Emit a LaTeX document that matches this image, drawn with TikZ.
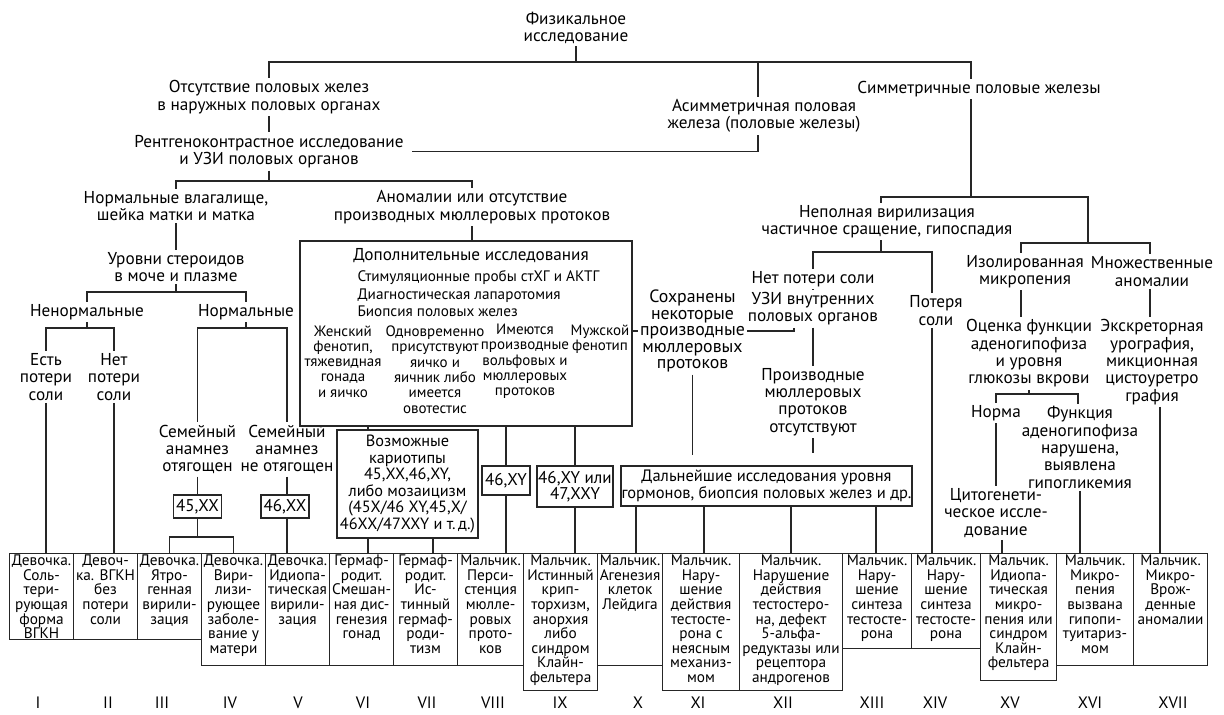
\documentclass[tikz,border=0pt]{standalone}
\usepackage{fontspec}
\setmainfont{PT Sans}
\newcommand\fsz[2]{\fontsize{#1}{#2}\selectfont\lineskiplimit=-20pt\relax}
\newcommand\mycell[5]{%
  \node[cell, minimum width=#3, minimum height=#4] (#1) at (#2,553) {};
  \node[celltxt] (#1t) at ([yshift=-1.5pt]#1.north) {#5};}
\begin{document}
\begin{tikzpicture}[x=1pt,y=-1pt,
  line width=1.1pt, draw=black!85,
  lbl/.style={align=center,inner sep=2pt,font=\fsz{17.2}{17.3}},
  sml/.style={align=center,inner sep=2pt,font=\fsz{15}{15.3}},
  kbox/.style={draw,align=center,inner sep=0pt,font=\fsz{17}{16.5}},
  cell/.style={draw,anchor=north west,inner sep=0pt},
  celltxt/.style={anchor=north,align=center,inner sep=0pt,font=\fsz{15.3}{14.6}},
  rom/.style={inner sep=1pt,font=\fsz{16.5}{16}}]
\useasboundingbox (0,0) rectangle (1224,715);

% ---------- text nodes ----------
\node[lbl] (phys) at (576,28) {Физикальное\\исследование};
\node[lbl] (absent) at (269,97) {Отсутствие половых желез\\в наружных половых органах};
\node[lbl] (asym) at (764,116) {Асимметричная половая\\железа (половые железы)};
\node[lbl] (sym) at (979,89) {Симметричные половые железы};
\node[lbl] (rentg) at (269,151.5) {Рентгеноконтрастное исследование\\и УЗИ половых органов};
\node[lbl] (norm3) at (176,206) {Нормальные влагалище,\\шейка матки и матка};
\node[lbl] (anom) at (472,207) {Аномалии или отсутствие\\производных мюллеровых протоков};
\node[lbl] (steroid) at (176,267) {Уровни стероидов\\в моче и плазме};
\node[lbl] (abn) at (87,312) {Ненормальные};
\node[lbl] (nrm) at (246,312) {Нормальные};
\node[lbl] (salt1) at (46,377) {Есть\\потери\\соли};
\node[lbl] (nosalt1) at (114,377) {Нет\\потери\\соли};
\node[lbl] (fam1) at (197.5,449.5) {Семейный\\анамнез\\отягощен};
\node[lbl] (fam2) at (287,449.5) {Семейный\\анамнез\\не отягощен};
\node[kbox,minimum width=48,minimum height=23] (k45) at (197.5,506.5) {45,XX};
\node[kbox,minimum width=48,minimum height=23] (k46) at (285,506.5) {46,XX};

\node[draw,minimum width=332,minimum height=185,inner sep=0pt] (addbox) at (466,333.5) {};
\node[lbl] (addh) at (471,256) {Дополнительные исследования};
\node[anchor=west,align=left,inner sep=0pt,font=\fsz{15.2}{17.5}] (addl) at (357,294)
  {Стимуляционные пробы стХГ и АКТГ\\Диагностическая лапаротомия\\Биопсия половых желез};
\node[sml] (col1) at (343,361.5) {Женский\\фенотип,\\тяжевидная\\гонада\\и яичко};
\node[sml] (col2) at (435,369.5) {Одновременно\\присутствуют\\яичко и\\яичник либо\\имеется\\овотестис};
\node[sml] (col3) at (525,361.5) {Имеются\\производные\\вольфовых и\\мюллеровых\\протоков};
\node[sml] (col4) at (600,339) {Мужской\\фенотип};

\node[kbox,minimum width=141,minimum height=108,font=\fsz{16.3}{16.5}] (poss) at (407.5,484)
  {Возможные\\кариотипы\\45,XX,46,XY,\\либо мозаицизм\\(45X/46 XY,45,X/\\46XX/47XXY и т.\,д.)};
\node[kbox,minimum width=48,minimum height=29] (kxy) at (506,480.5) {46,XY};
\node[kbox,minimum width=76,minimum height=41] (kxxy) at (575,486.5) {46,XY или\\47,XXY};
\node[lbl,font=\fsz{17.8}{16.5}] (keep) at (692.5,331) {Сохранены\\некоторые\\производные\\мюллеровых\\протоков};
\node[kbox,minimum width=291,minimum height=40,font=\fsz{16.5}{16.5}] (fur) at (766.5,486)
  {Дальнейшие исследования уровня\\гормонов, биопсия половых желез и др.};

\node[lbl] (incomplete) at (887,221.5) {Неполная вирилизация\\частичное сращение, гипоспадия};
\node[lbl] (nosalt) at (813,279) {Нет потери соли};
\node[lbl] (uzi) at (813,308.5) {УЗИ внутренних\\половых органов};
\node[lbl] (absentm) at (813,402) {Производные\\мюллеровых\\протоков\\отсутствуют};
\node[lbl] (salt) at (936,310.5) {Потеря\\соли};
\node[lbl] (isol) at (1025,271.5) {Изолированная\\микропения};
\node[lbl] (mult) at (1152,271.5) {Множественные\\аномалии};
\node[lbl] (eval) at (1029,353.5) {Оценка функции\\аденогипофиза\\и уровня\\глюкозы вкрови};
\node[lbl] (excr) at (1152,362) {Экскреторная\\урография,\\микционная\\цистоуретро\\графия};
\node[lbl] (normal) at (996,413) {Норма};
\node[lbl] (func) at (1080,447.5) {Функция\\аденогипофиза\\нарушена,\\выявлена\\гипогликемия};
\node[lbl] (cyto) at (996,513) {Цитогенети-\\ческое иссле-\\дование};

% ---------- bottom cells ----------
\mycell{bI}{9}{64}{86}{Девочка.\\Соль-\\тери-\\рующая\\форма\\ВГКН}
\mycell{bII}{73}{64}{86}{Девоч-\\ка. ВГКН\\без\\потери\\соли}
\mycell{bIII}{137}{64}{86}{Девочка.\\Ятро-\\генная\\вирили-\\зация}
\mycell{bIV}{201}{64}{112}{Девочка.\\Вири-\\лизи-\\рующее\\заболе-\\вание у\\матери}
\mycell{bV}{265}{64}{112}{Девочка.\\Идиопа-\\тическая\\вирили-\\зация}
\mycell{bVI}{329}{64}{112}{Гермаф-\\родит.\\Смешан-\\ная дис-\\генезия\\гонад}
\mycell{bVII}{393}{64}{112}{Гермаф-\\родит.\\Ис-\\тинный\\гермаф-\\роди-\\тизм}
\mycell{bVIII}{457}{66}{112}{Мальчик.\\Перси-\\стенция\\мюлле-\\ровых\\прото-\\ков}
\mycell{bIX}{523}{74}{137}{Мальчик.\\Истинный\\крип-\\торхизм,\\анорхия\\либо\\синдром\\Клайн-\\фельтера}
\mycell{bX}{597}{65}{112}{Мальчик.\\Агенезия\\клеток\\Лейдига}
\mycell{bXI}{662}{77}{137}{Мальчик.\\Нару-\\шение\\действия\\тестосте-\\рона с\\неясным\\механиз-\\мом}
\mycell{bXII}{739}{103}{137}{Мальчик.\\Нарушение\\действия\\тестостеро-\\на, дефект\\5-альфа-\\редуктазы или\\рецептора\\андрогенов}
\mycell{bXIII}{842}{69}{95}{Мальчик.\\Нару-\\шение\\синтеза\\тестосте-\\рона}
\mycell{bXIV}{911}{69}{95}{Мальчик.\\Нару-\\шение\\синтеза\\тестосте-\\рона}
\mycell{bXV}{980}{76}{127}{Мальчик.\\Идиопа-\\тическая\\микро-\\пения или\\синдром\\Клайн-\\фельтера}
\mycell{bXVI}{1056}{77}{112}{Мальчик.\\Микро-\\пения\\вызвана\\гипопи-\\туитариз-\\мом}
\mycell{bXVII}{1133}{74}{112}{Мальчик.\\Микро-\\Врож-\\денные\\аномалии}

% roman numerals
\node[rom] (rI) at (38,703) {I};
\node[rom] (rII) at (108,703) {II};
\node[rom] (rIII) at (162,703) {III};
\node[rom] (rIV) at (230,703) {IV};
\node[rom] (rV) at (298,703) {V};
\node[rom] (rVI) at (363,703) {VI};
\node[rom] (rVII) at (427,703) {VII};
\node[rom] (rVIII) at (493,703) {VIII};
\node[rom] (rIX) at (560,703) {IX};
\node[rom] (rX) at (638,703) {X};
\node[rom] (rXI) at (698,703) {XI};
\node[rom] (rXII) at (783,703) {XII};
\node[rom] (rXIII) at (872,703) {XIII};
\node[rom] (rXIV) at (935,703) {XIV};
\node[rom] (rXV) at (1010,703) {XV};
\node[rom] (rXVI) at (1090,703) {XVI};
\node[rom] (rXVII) at (1173,703) {XVII};

% ---------- connectors ----------
\coordinate (c0) at (576,62);
\draw (phys) -- (c0);
\draw (c0) -| (absent);
\coordinate (a1) at ([xshift=-6pt]asym.north);
\coordinate (a2) at ([xshift=-6pt]asym.south);
\coordinate (s0) at ([xshift=-8pt]sym.north);
\coordinate (s1) at ([xshift=-8pt]sym.south);
\draw (c0) -| (a1);
\draw (c0) -| (s0);
\draw (absent) -- (rentg);
\draw ([xshift=6pt]rentg.east) -| (a2);

\coordinate (c1) at (269,181);
\draw (rentg) -- (c1);
\draw (c1) -| (norm3);
\draw (c1) -| (anom);
\draw (norm3) -- (steroid);
\draw (anom) -- (anom |- addbox.north);

\coordinate (c2) at (176,292);
\draw (steroid) -- (c2);
\draw (c2) -| (abn);
\draw (c2) -| (nrm);
\coordinate (c3) at (87,328);
\draw (abn) -- (c3);
\draw (c3) -| (salt1);
\draw (c3) -| (nosalt1);
\draw (salt1) -- (salt1 |- bI.north);
\draw (nosalt1) -- (nosalt1 |- bII.north);
\coordinate (c4) at (246,328);
\draw (nrm) -- (c4);
\draw (c4) -| (fam1);
\draw (c4) -| (fam2);
\draw (fam1) -- (k45);
\draw (fam2) -- (fam2 |- k46.north);
\coordinate (c5) at (197.5,537);
\draw (k45) -- (c5);
\draw (c5) -| (bIII.north);
\draw (c5) -| (bIV.north);
\draw (k46.south -| fam2) -- (fam2 |- bV.north);

\coordinate (p1) at ([xshift=-39.5pt]poss.north);
\coordinate (p2) at ([xshift=-39.5pt]poss.south);
\coordinate (p3) at ([xshift=25.5pt]poss.south);
\draw (p1) -- (p1 |- addbox.south);
\draw (p2) -- (p2 |- bVI.north);
\draw (p3) -- (p3 |- bVII.north);
\draw (kxy) -- (kxy |- addbox.south);
\draw (kxy) -- (kxy |- bVIII.north);
\draw (kxxy) -- (kxxy |- addbox.south);
\draw (kxxy) -- (kxxy |- bIX.north);

\draw (keep.west) -- (keep.west -| addbox.east);
\coordinate (u1) at ([xshift=-19pt]uzi.south);
\draw (keep.east) -| (u1);
\draw (nosalt) -- (uzi);
\draw (uzi) -- (absentm);
\draw[shorten >=10pt] (keep) -- (keep |- fur.north);
\draw[shorten >=12pt] (absentm) -- (absentm |- fur.north);
\coordinate (f1) at ([xshift=-130.5pt]fur.south);
\coordinate (f2) at ([xshift=-62.5pt]fur.south);
\coordinate (f3) at ([xshift=24.5pt]fur.south);
\coordinate (f4) at ([xshift=109.5pt]fur.south);
\draw (f1) -- (f1 |- bX.north);
\draw (f2) -- (f2 |- bXI.north);
\draw (f3) -- (f3 |- bXII.north);
\draw (f4) -- (f4 |- bXIII.north);

\coordinate (c6) at (971,197);
\draw (s1) -- (c6);
\coordinate (n1) at ([xshift=-6pt]incomplete.north);
\coordinate (n2) at ([xshift=-6pt]incomplete.south);
\draw (c6) -| (n1);
\coordinate (c7) at (1088,243);
\draw (c6) -| (c7);
\coordinate (i0) at ([xshift=-4pt]isol.north);
\coordinate (m0) at ([xshift=-2pt]mult.north);
\draw (c7) -| (i0);
\draw (c7) -| (m0);
\coordinate (c8) at (881,252);
\draw (n2) -- (c8);
\draw (c8) -| (nosalt);
\coordinate (t0) at ([xshift=-4pt]salt.north);
\coordinate (t1) at ([xshift=-4pt]salt.south);
\draw (c8) -| (t0);
\draw (t1) -- (t1 |- bXIV.north);
\coordinate (i1) at ([xshift=-4pt]isol.south);
\draw (i1) -- (i1 |- eval.north);
\coordinate (m1) at ([xshift=-2pt]mult.south);
\draw (m1) -- (m1 |- excr.north);
\coordinate (c9) at (1029,394);
\draw (eval) -- (c9);
\draw (c9) -| (normal);
\coordinate (g0) at ([xshift=-2pt]func.north);
\draw (c9) -| (g0);
\draw (normal) -- (cyto);
\coordinate (y1) at ([xshift=6pt]cyto.south);
\draw (y1) -- (y1 |- bXV.north);
\draw (func) -- (func |- bXVI.north);
\coordinate (e1) at ([xshift=8pt]excr.south);
\draw (e1) -- (e1 |- bXVII.north);
\end{tikzpicture}
\end{document}
